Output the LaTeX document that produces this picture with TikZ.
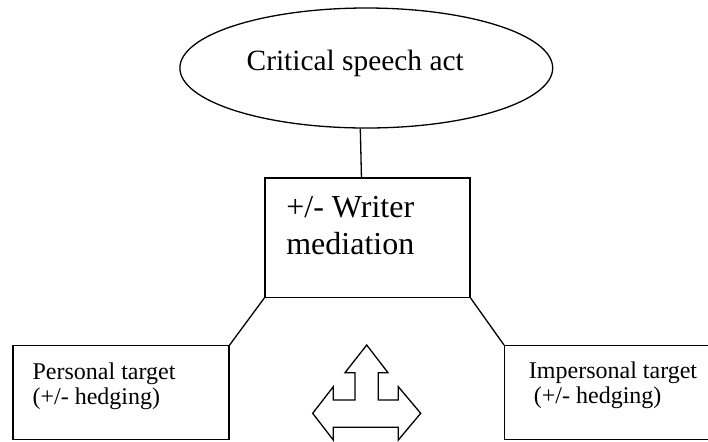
\documentclass[tikz,border=0pt]{standalone}
\usepackage{fontspec}
\setmainfont{Liberation Serif}
\usetikzlibrary{shapes.geometric}
\begin{document}
\begin{tikzpicture}[x=0.5pt, y=-0.5pt, line width=0.65pt,
  framebox/.style={draw, rectangle, inner sep=0pt, anchor=north west},
  % multi-line labels: the base anchor sits on the last line's baseline
  label12/.style={anchor=base west, inner sep=0pt, align=left,
    font=\fontsize{12}{12.5}\selectfont},
  label14/.style={anchor=base west, inner sep=0pt,
    font=\fontsize{14.7}{17}\selectfont},
  label16/.style={anchor=base west, inner sep=0pt, align=left,
    font=\fontsize{16}{18.5}\selectfont}]
\useasboundingbox (0,0) rectangle (708,441);
\clip (0,0) rectangle (708,441);

% top ellipse
\node[draw, ellipse, minimum width=186.4pt, minimum height=60pt, inner sep=0pt]
  (act) at (366.3,68) {};
\node[label14] (acttext) at (246,70.7) {Critical speech act};

% middle box
\node[framebox, minimum width=102.5pt, minimum height=59.7pt]
  (mediation) at (264.3,177.3) {};
\node[label16] (medtext) at (285.7,254) {+/- Writer\\mediation};

% lower boxes
\node[framebox, minimum width=108pt, minimum height=47pt]
  (personal) at (12.3,345) {};
\node[label12] (perstext) at (32,404) {Personal target\\(+/- hedging)};

\node[framebox, minimum width=105pt, minimum height=47pt]
  (impersonal) at (504,345) {};
\node[label12] (imptext) at (528.3,403.3)
  {Impersonal target\\\hspace*{2.5pt}(+/- hedging)};

% connectors
\draw ([xshift=-3pt]act.south) -- ([xshift=-3pt]mediation.north);
\draw (mediation.south west) -- (personal.north east);
\draw (mediation.south east) -- (impersonal.north west);

% three-way block arrow
\draw (366.7,345) -- (388,372.7) -- (378.3,372.7) -- (378.3,400)
  -- (398.3,400) -- (398.3,386.7) -- (420.7,413.3) -- (398.3,440)
  -- (398.3,427.3) -- (333.3,427.3) -- (333.3,440) -- (312.7,413.3)
  -- (333.3,386.7) -- (333.3,400) -- (355,400) -- (355,372.7)
  -- (345,372.7) -- cycle;
\end{tikzpicture}
\end{document}
